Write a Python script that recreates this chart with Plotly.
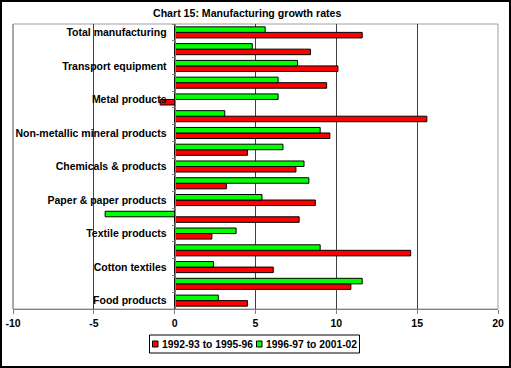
import plotly.graph_objects as go

categories = [
    "Food products", "Beverages & tobacco", "Cotton textiles",
    "Wool, silk & man-made fibre textiles", "Textile products", "Wood products",
    "Paper & paper products", "Leather products", "Chemicals & products",
    "Rubber, plastic & petroleum products", "Non-metallic mineral products",
    "Basic metals", "Metal products", "Machinery", "Transport equipment",
    "Other manufacturing", "Total manufacturing",
]
shown_labels = ["Food products", "Cotton textiles", "Textile products",
                "Paper & paper products", "Chemicals & products",
                "Non-metallic mineral products", "Metal products",
                "Transport equipment", "Total manufacturing"]

red_name = "1992-93 to 1995-96"
green_name = "1996-97 to 2001-02"
red_vals = [4.5, 10.9, 6.1, 14.6, 2.3, 7.7, 8.7, 3.2, 7.5, 4.5, 9.6, 15.6, -0.9, 9.4, 10.1, 8.4, 11.6]
green_vals = [2.7, 11.6, 2.4, 9.0, 3.8, -4.3, 5.4, 8.3, 8.0, 6.7, 9.0, 3.1, 6.4, 6.4, 7.6, 4.8, 5.6]

x_ticks = [-10, -5, 0, 5, 10, 15, 20]

RED = "#FF0000"
GREEN = "#00FF00"
font_family = "Liberation Sans"

fig = go.Figure()
fig.add_trace(go.Bar(y=categories, x=red_vals, orientation="h", name=red_name,
                     marker=dict(color=RED, line=dict(color="black", width=1))))
fig.add_trace(go.Bar(y=categories, x=green_vals, orientation="h", name=green_name,
                     marker=dict(color=GREEN, line=dict(color="black", width=1))))

W, H = 511, 368
ml, mr, mt, mb = 13, 13, 24, 59
pw, ph = W - ml - mr, H - mt - mb


def px_x(p):
    return (p - ml) / pw


def px_y(p):
    return (ph + mt - p) / ph


# compact Excel-style legend drawn with shapes and text
leg_top, leg_bot = 335, 353
leg_mid = (leg_top + leg_bot) / 2
legend_items = [(red_name, RED, 152.5, 159.5), (green_name, GREEN, 256.5, 263.5)]

shapes = [
    dict(type="rect", xref="paper", yref="paper", x0=0, x1=1, y0=0, y1=1,
         line=dict(color="#A0A0A0", width=1), layer="below"),
    dict(type="line", xref="paper", yref="paper", x0=0, x1=0, y0=0, y1=1,
         line=dict(color="#808080", width=1)),
    dict(type="rect", xref="paper", yref="paper",
         x0=px_x(1), x1=px_x(W - 1), y0=px_y(H - 1), y1=px_y(1),
         line=dict(color="black", width=2)),
    dict(type="rect", xref="paper", yref="paper",
         x0=px_x(149.5), x1=px_x(359.5), y0=px_y(leg_bot), y1=px_y(leg_top),
         line=dict(color="black", width=1), fillcolor="white"),
]
annotations = [
    dict(text="<b>Chart 15: Manufacturing growth rates</b>", xref="paper", yref="paper",
         x=px_x(246.5), y=px_y(13), xanchor="center", yanchor="middle",
         showarrow=False, font=dict(family=font_family, size=10.6, color="black")),
]
for name, col, sq_x, tx in legend_items:
    shapes.append(dict(type="rect", xref="paper", yref="paper",
                       x0=px_x(sq_x), x1=px_x(sq_x + 5.5),
                       y0=px_y(leg_mid + 3), y1=px_y(leg_mid - 3),
                       line=dict(color="black", width=1), fillcolor=col))
    annotations.append(dict(text="<b>" + name + "</b>", xref="paper", yref="paper",
                            x=px_x(tx), y=px_y(leg_mid), xanchor="left", yanchor="middle",
                            showarrow=False,
                            font=dict(family=font_family, size=10.3, color="black")))

fig.update_layout(
    width=W, height=H,
    margin=dict(l=ml, r=mr, t=mt, b=mb, pad=0, autoexpand=False),
    paper_bgcolor="white", plot_bgcolor="white",
    barmode="group", bargap=0.34, bargroupgap=0,
    font=dict(family=font_family, size=10.5, color="black"),
    showlegend=False,
    xaxis=dict(range=[-10, 20], tickvals=x_ticks, ticktext=[str(v) for v in x_ticks],
               showgrid=True, gridcolor="#404040", gridwidth=1,
               zeroline=False, showline=True, linecolor="#808080", linewidth=1,
               ticks="outside", ticklen=4, tickcolor="#808080",
               tickfont=dict(family=font_family, size=10.5, weight="bold"),
               automargin=False, fixedrange=True),
    yaxis=dict(type="category", categoryorder="array", categoryarray=categories,
               tickvals=categories,
               ticktext=[c if c in shown_labels else "" for c in categories],
               tickson="boundaries", ticks="outside", ticklen=3, tickcolor="#808080",
               ticklabelstandoff=6,
               showline=True, linecolor="#808080", linewidth=1,
               showgrid=False, zeroline=False,
               anchor="free", position=10 / 30,
               tickfont=dict(family=font_family, size=10.5, weight="bold"),
               automargin=False, fixedrange=True),
    shapes=shapes,
    annotations=annotations,
)

fig.write_html(
    "out.html",
    config={"displayModeBar": False},
    post_script="document.body.style.margin='0';document.body.style.overflow='hidden';",
)
